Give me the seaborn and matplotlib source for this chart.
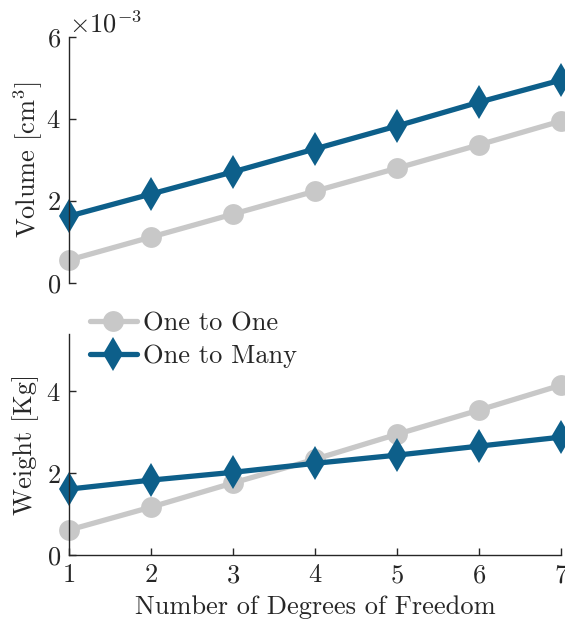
import matplotlib
matplotlib.use("Agg")
import matplotlib.pyplot as plt
import seaborn as sns
import pandas as pd

dof = [1, 2, 3, 4, 5, 6, 7]
volume_one_to_one = [0.56e-3, 1.12e-3, 1.68e-3, 2.24e-3, 2.80e-3, 3.37e-3, 3.95e-3]
volume_one_to_many = [1.63e-3, 2.17e-3, 2.71e-3, 3.27e-3, 3.83e-3, 4.41e-3, 4.95e-3]
weight_one_to_one = [0.61, 1.17, 1.76, 2.34, 2.95, 3.54, 4.15]
weight_one_to_many = [1.61, 1.83, 2.02, 2.24, 2.44, 2.66, 2.88]
series_names = ["One to One", "One to Many"]

sns.set_style("ticks")
plt.rcParams["font.family"] = ["cmr10", "DejaVu Serif"]
plt.rcParams["mathtext.fontset"] = "cm"
plt.rcParams["axes.formatter.use_mathtext"] = True
plt.rcParams["axes.unicode_minus"] = True

GRAY = "#c8c8c8"
BLUE = "#0d5f8a"
palette = {series_names[0]: GRAY, series_names[1]: BLUE}
markers = {series_names[0]: "o", series_names[1]: "d"}

vol = pd.DataFrame({
    "dof": dof * 2,
    "value": volume_one_to_one + volume_one_to_many,
    "series": [series_names[0]] * 7 + [series_names[1]] * 7,
})
wt = pd.DataFrame({
    "dof": dof * 2,
    "value": weight_one_to_one + weight_one_to_many,
    "series": [series_names[0]] * 7 + [series_names[1]] * 7,
})

W, H = 565, 624
fig = plt.figure(figsize=(W / 100, H / 100), dpi=100)
left, right = 69 / W, 561 / W
ax1 = fig.add_axes([left, 1 - 283 / H, right - left, (283 - 37) / H])
ax2 = fig.add_axes([left, 1 - 555 / H, right - left, (555 - 334) / H])

FS = 19
line_kw = dict(x="dof", y="value", hue="series", style="series",
               palette=palette, markers=markers, dashes=False,
               linewidth=3.8, markersize=15, markeredgewidth=0)

sns.lineplot(data=vol, ax=ax1, legend=False, clip_on=False, **line_kw)
sns.lineplot(data=wt, ax=ax2, legend=True, clip_on=False, **line_kw)

# slightly larger diamonds than circles
for ax in (ax1, ax2):
    for ln in ax.lines:
        if ln.get_marker() == "d":
            ln.set_markersize(17)

for ax in (ax1, ax2):
    ax.set_xlim(1, 7)
    ax.tick_params(direction="in", labelsize=FS, length=5, width=1, color="#262626",
                   labelcolor="#262626", pad=6)
    for s in ("top", "right"):
        ax.spines[s].set_visible(False)
    for s in ("left", "bottom"):
        ax.spines[s].set_color("#262626")
        ax.spines[s].set_linewidth(1)
    ax.set_xlabel("")

# upper panel: volume
ax1.set_ylim(0, 6e-3)
ax1.set_yticks([0, 2e-3, 4e-3, 6e-3])
ax1.ticklabel_format(axis="y", style="sci", scilimits=(0, 0))
ax1.yaxis.get_offset_text().set_fontsize(FS)
ax1.yaxis.get_offset_text().set_color("#262626")
ax1.spines["bottom"].set_visible(False)
ax1.tick_params(axis="x", bottom=False, labelbottom=False)
ax1.set_ylabel("Volume [cm$^3$]", fontsize=FS, color="#262626", labelpad=1)

# lower panel: weight
ax2.set_ylim(0, 5.4)
ax2.set_yticks([0, 2, 4])
ax2.set_xticks(dof)
ax2.set_xlabel("Number of Degrees of Freedom", fontsize=FS, color="#262626", labelpad=6)
ax2.set_ylabel("Weight [Kg]", fontsize=FS, color="#262626", labelpad=5)

handles, labels = ax2.get_legend_handles_labels()
for h in handles:
    if h.get_marker() == "d":
        h.set_markersize(17)
leg = ax2.legend(handles, labels, loc="upper left", bbox_to_anchor=(0.022, 1.15),
                 frameon=False, fontsize=FS, handlelength=1.75, handletextpad=0.25,
                 labelspacing=0.35, borderaxespad=0)
for t in leg.get_texts():
    t.set_color("#262626")

fig.savefig("out.png", dpi=100)
